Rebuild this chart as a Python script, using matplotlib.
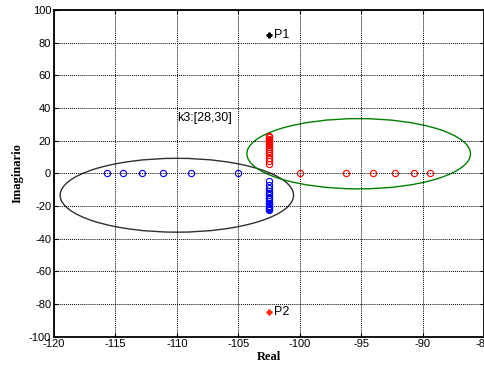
import matplotlib.pyplot as plt
from matplotlib.patches import Ellipse

# poles on the real axis
blue_real = [-115.7, -114.4, -112.85, -111.1, -108.85, -105.0]
red_real = [-100.0, -96.25, -94.0, -92.25, -90.7, -89.4]

# pairs of complex poles (k3 sweep)
col_re = -102.5
red_imag = [5.8, 7.8, 9.6, 11.2, 12.6, 13.9, 15.1, 16.2, 17.2, 18.1, 19.0,
            19.8, 20.6, 21.3, 22.0, 22.6]
blue_imag = [-4.9, -7.0, -8.9, -10.6, -12.1, -13.5, -14.8, -16.0, -17.1,
             -18.1, -19.0, -19.9, -20.7, -21.4, -22.0, -22.5]

p1 = (-102.5, 84.5)
p2 = (-102.5, -85.0)

# ellipses: centre x, centre y, width, height
black_ell = (-110.0, -13.4, 19.0, 45.2)
green_ell = (-95.2, 12.0, 18.2, 43.0)

plt.rcParams['font.family'] = ['Liberation Sans', 'DejaVu Sans']
plt.rcParams['axes.unicode_minus'] = False

fig = plt.figure(figsize=(4.85, 3.66), dpi=100)
ax = fig.add_axes([0.1113, 0.080, 0.8866, 0.8927])

ax.plot(blue_real, [0] * len(blue_real), 'o', mfc='none', mec='blue',
        ms=4.5, mew=0.8)
ax.plot([col_re] * len(blue_imag), blue_imag, 'o', mfc='none', mec='blue',
        ms=4.5, mew=0.8)
ax.plot(red_real, [0] * len(red_real), 'o', mfc='none', mec='red',
        ms=4.5, mew=0.8)
ax.plot([col_re] * len(red_imag), red_imag, 'o', mfc='none', mec='red',
        ms=4.5, mew=0.8)

ax.plot(*p1, marker='P', color='black', ms=3.5)
ax.plot(*p2, marker='P', color='#ff3010', ms=3.5)
ax.text(p1[0] + 0.4, p1[1], 'P1', fontsize=9, va='center')
ax.text(p2[0] + 0.4, p2[1], 'P2', fontsize=9, va='center')
ax.text(-110.0, 30.5, 'k3:[28,30]', fontsize=9, va='bottom')

ax.add_patch(Ellipse(black_ell[:2], black_ell[2], black_ell[3],
                     fill=False, ec='#303030', lw=1.0))
ax.add_patch(Ellipse(green_ell[:2], green_ell[2], green_ell[3],
                     fill=False, ec='#008000', lw=1.0))

ax.set_xlim(-120, -85)
ax.set_ylim(-100, 100)
ax.set_xticks(range(-120, -84, 5))
ax.set_yticks(range(-100, 101, 20))
ax.tick_params(direction='in', labelsize=8, length=3, top=True, right=True,
               pad=2)
ax.grid(True, linestyle=(0, (1, 1)), color='black', lw=0.7)
for s in ax.spines.values():
    s.set_linewidth(1.3)

ax.set_xlabel('Real', fontsize=9, fontweight='bold',
              family='Liberation Serif', labelpad=1)
ax.set_ylabel('Imaginario', fontsize=9, fontweight='bold',
              family='Liberation Serif', labelpad=4)

fig.savefig('out.png', dpi=100)
